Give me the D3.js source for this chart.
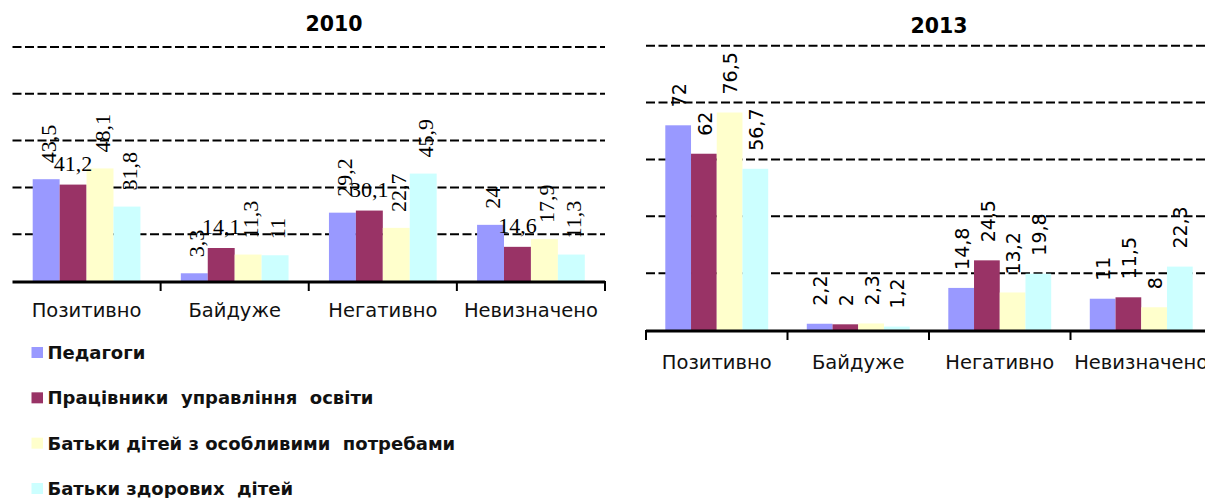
<!DOCTYPE html>
<html><head><meta charset="utf-8">
<script src="https://cdn.jsdelivr.net/npm/d3@7"></script>
<style>
body{margin:0;background:#fff;}
svg{display:block;}
</style></head>
<body>
<svg id="chart" width="1205" height="498"></svg>
<script>
const categories = ["Позитивно", "Байдуже", "Негативно", "Невизначено"];
const seriesNames = ["Педагоги", "Працівники  управління  освіти", "Батьки дітей з особливими  потребами", "Батьки здорових  дітей"];
const seriesColors = ["#9999FF", "#993366", "#FFFFCC", "#CCFFFF"];
const titles = ["2010", "2013"];
const values2010 = [
  [43.5, 3.3, 29.2, 24],
  [41.2, 14.1, 30.1, 14.6],
  [48.1, 11.3, 22.7, 17.9],
  [31.8, 11, 45.9, 11.3]
];
const values2013 = [
  [72, 2.2, 14.8, 11],
  [62, 2, 24.5, 11.5],
  [76.5, 2.3, 13.2, 8],
  [56.7, 1.2, 19.8, 22.3]
];
const gridTicks = [20, 40, 60, 80, 100];

const svg = d3.select("#chart");
const fmt = v => String(v).replace(".", ",");

function drawChart(cfg) {
  const g = svg.append("g");
  const x = d3.scaleBand().domain(categories).range([cfg.x0, cfg.x1]).padding(0);
  const B = x.bandwidth();
  const xi = d3.scaleBand().domain(d3.range(4)).range([B * 0.75 / 5.5, B * 4.75 / 5.5]).padding(0);
  const y = d3.scaleLinear().domain([0, 100]).range([cfg.yBase, cfg.yTop]);

  // title
  g.append("text").attr("x", cfg.titleX).attr("y", cfg.titleY)
    .attr("text-anchor", "middle").attr("font-family", "DejaVu Sans")
    .attr("font-weight", "bold").attr("font-size", 20.5).text(cfg.title);

  // gridlines
  g.selectAll("line.grid").data(gridTicks).join("line")
    .attr("x1", cfg.x0).attr("x2", cfg.gridEnd)
    .attr("y1", d => y(d)).attr("y2", d => y(d))
    .attr("stroke", "#000").attr("stroke-width", 2).attr("stroke-dasharray", "9,3.5");

  // bars
  const data = [];
  cfg.values.forEach((row, si) => row.forEach((v, ci) => data.push({si, ci, v})));
  g.selectAll("rect.bar").data(data).join("rect")
    .attr("x", d => x(categories[d.ci]) + xi(d.si))
    .attr("width", xi.bandwidth())
    .attr("y", d => y(d.v))
    .attr("height", d => y(0) - y(d.v))
    .attr("fill", d => seriesColors[d.si]);

  // axis baseline + ticks
  g.append("line").attr("x1", cfg.x0).attr("x2", cfg.gridEnd)
    .attr("y1", cfg.yBase + 1).attr("y2", cfg.yBase + 1)
    .attr("stroke", "#000").attr("stroke-width", 3);
  const bounds = d3.range(5).map(i => cfg.x0 + i * B).filter((d, i) => cfg.tickIdx.includes(i));
  g.selectAll("line.tick").data(bounds).join("line")
    .attr("x1", d => d).attr("x2", d => d)
    .attr("y1", cfg.yBase).attr("y2", cfg.yBase + 10)
    .attr("stroke", "#000").attr("stroke-width", 2);

  // category labels
  g.selectAll("text.cat").data(categories).join("text")
    .attr("x", d => x(d) + B / 2).attr("y", cfg.catY)
    .attr("text-anchor", "middle").attr("font-family", "DejaVu Sans")
    .attr("font-size", 19.5).attr("fill", "#111").text(d => d);

  // data labels
  g.selectAll("text.lab").data(data).join("text")
    .each(function(d) {
      const t = d3.select(this);
      const cx = x(categories[d.ci]) + xi(d.si) + xi.bandwidth() / 2;
      const top = y(d.v);
      t.attr("font-family", cfg.labelFont).attr("font-size", cfg.labelSize).attr("fill", "#000");
      if (cfg.horizSeries === d.si) {
        t.attr("x", cx).attr("y", top - 14).attr("text-anchor", "middle");
      } else {
        t.attr("transform", `translate(${cx + cfg.labelDx},${top - cfg.labelGap}) rotate(-90)`)
          .attr("dy", "0.35em").attr("text-anchor", "start");
      }
      t.text(fmt(d.v));
    });
}

drawChart({
  title: titles[0], values: values2010, x0: 12.5, x1: 605, gridEnd: 605,
  yBase: 281, yTop: 47, titleX: 334, titleY: 31, catY: 317, tickIdx: [1, 2, 3, 4],
  labelFont: "Liberation Serif", labelSize: 22, labelGap: 16, labelDx: 2, horizSeries: 1
});
drawChart({
  title: titles[1], values: values2013, x0: 646, x1: 1212, gridEnd: 1212,
  yBase: 330, yTop: 45.7, titleX: 939, titleY: 33, catY: 369, tickIdx: [0, 1, 2, 3, 4],
  labelFont: "DejaVu Sans", labelSize: 19, labelGap: 18, labelDx: 1, horizSeries: -1
});

// legend
const legend = svg.append("g");
const ly = d3.scaleLinear().domain([0, 3]).range([359, 495]);
seriesNames.forEach((name, i) => {
  legend.append("rect").attr("x", 31.5).attr("y", ly(i) - 12).attr("width", 11.5).attr("height", 11)
    .attr("fill", seriesColors[i]);
  legend.append("text").attr("x", 47.5).attr("y", ly(i))
    .attr("font-family", "DejaVu Sans").attr("font-weight", "bold").attr("font-size", 18)
    .style("white-space", "pre").attr("fill", "#111").text(name);
});
</script>
</body></html>
